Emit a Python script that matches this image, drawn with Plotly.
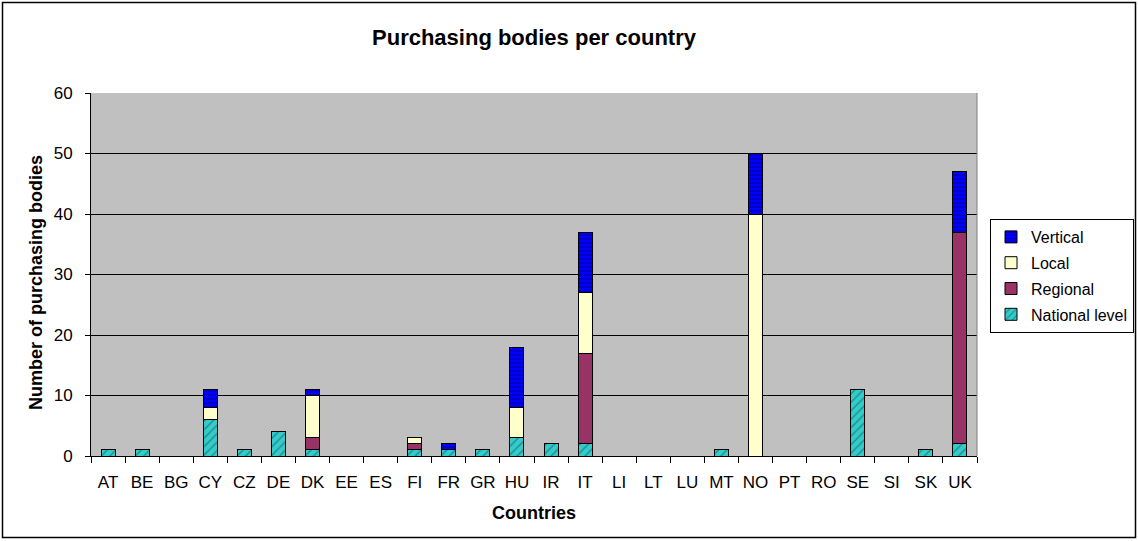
import plotly.graph_objects as go

countries = ["AT","BE","BG","CY","CZ","DE","DK","EE","ES","FI","FR","GR","HU","IR","IT","LI","LT","LU","MT","NO","PT","RO","SE","SI","SK","UK"]
national = [1,1,0,6,1,4,1,0,0,1,1,1,3,2,2,0,0,0,1,0,0,0,11,0,1,2]
regional = [0,0,0,0,0,0,2,0,0,1,0,0,0,0,15,0,0,0,0,0,0,0,0,0,0,35]
local    = [0,0,0,2,0,0,7,0,0,1,0,0,5,0,10,0,0,0,0,40,0,0,0,0,0,0]
vertical = [0,0,0,3,0,0,1,0,0,0,1,0,10,0,10,0,0,0,0,10,0,0,0,0,0,10]

W, H = 1138, 541
L, R, T, B = 91, 161, 93, 85
pw, ph = W - L - R, H - T - B

def px(x):
    return (x - L) / pw

def py(y):
    return (H - B - y) / ph

FONT = "Liberation Sans, Arial, sans-serif"

fig = go.Figure()
line = dict(color="black", width=1)
fig.add_bar(x=countries, y=national, name="National level", legendgroup="n", legendrank=4,
            marker=dict(color="#33CCCC", line=line,
                        pattern=dict(shape="/", fgcolor="#1a4f4f", bgcolor="#33CCCC", size=6, solidity=0.25)))
fig.add_bar(x=countries, y=regional, name="Regional", legendgroup="r", legendrank=3,
            marker=dict(color="#993366", line=line))
fig.add_bar(x=countries, y=local, name="Local", legendgroup="l", legendrank=2,
            marker=dict(color="#FFFFCC", line=line))
fig.add_bar(x=countries, y=vertical, name="Vertical", legendgroup="v", legendrank=1,
            marker=dict(color="#0000FF", line=line,
                        pattern=dict(shape="-", fgcolor="#000060", bgcolor="#0000FF", size=4, solidity=0.35)))

fig.update_layout(
    width=W, height=H, barmode="stack", bargap=0.59,
    margin=dict(l=L, r=R, t=T, b=B, autoexpand=False),
    paper_bgcolor="white", plot_bgcolor="#C0C0C0",
    font=dict(family=FONT, size=17, color="black"),
    title=dict(text="<b>Purchasing bodies per country</b>", x=(L + pw / 2) / W, xanchor="center",
               y=1 - 37 / H, yanchor="middle", font=dict(size=22)),
    legend=dict(traceorder="grouped", x=px(990), y=py(219), xanchor="left", yanchor="top",
                bgcolor="white", bordercolor="black", borderwidth=1, font=dict(size=16),
                itemwidth=30, tracegroupgap=2),
    showlegend=True,
)
fig.update_xaxes(
    showline=True, linecolor="black", linewidth=1, ticks="outside", tickson="boundaries",
    ticklen=6, tickcolor="black", showgrid=False, range=[-0.5, 25.5], tickangle=0,
    tickfont=dict(size=17), ticklabelstandoff=11, automargin=False,
)
fig.update_yaxes(
    range=[0, 60], dtick=10, showline=True, linecolor="black", linewidth=1,
    ticks="outside", ticklen=5, tickcolor="black", tickfont=dict(size=17), ticklabelstandoff=9,
    showgrid=True, gridcolor="black", gridwidth=1, zeroline=False, automargin=False,
)
fig.add_annotation(text="<b>Countries</b>", xref="paper", yref="paper", x=px(534), y=py(513),
                   xanchor="center", yanchor="middle", showarrow=False, font=dict(size=18))
fig.add_annotation(text="<b>Number of purchasing bodies</b>", xref="paper", yref="paper",
                   x=px(36), y=py(283), textangle=-90, xanchor="center", yanchor="middle",
                   showarrow=False, font=dict(size=18))
# right edge of plot area
fig.add_shape(type="line", xref="paper", yref="paper", x0=1, x1=1, y0=0, y1=1,
              line=dict(color="#808080", width=1))
# outer chart border
fig.add_shape(type="rect", xref="paper", yref="paper",
              x0=px(2.5), x1=px(1135.5), y0=py(537.5), y1=py(2.5),
              line=dict(color="black", width=1.5), fillcolor="rgba(0,0,0,0)", layer="below")
fig.write_html("out.html", config={"displayModeBar": False},
               post_script="document.body.style.margin='0px';")
